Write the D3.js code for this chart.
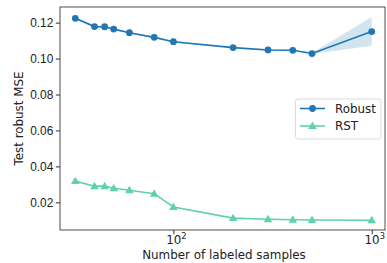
<!DOCTYPE html>
<html lang="en">
<head>
  <meta charset="UTF-8">
  <title>Test robust MSE</title>
  <script src="https://cdn.jsdelivr.net/npm/d3@7/dist/d3.min.js"></script>
  <style>
    body { margin: 0; background: #fff; }
    svg { font-family: "DejaVu Sans", sans-serif; }
    .tick text { font-size: 11.9px; fill: #222; }
    .axis-label { font-size: 11.9px; fill: #222; }
  </style>
</head>
<body>
  <svg id="chart" width="387" height="263"></svg>
  <script>
    // labeled sample counts
    const samples = [32, 40, 45, 50, 60, 80, 100, 200, 300, 400, 500, 1000]
    const robust = [0.1224, 0.1178, 0.1177, 0.1164, 0.1144, 0.1118, 0.1094, 0.1061, 0.1048, 0.1046, 0.1028, 0.1150]
    const robustLow = [0.1219, 0.1173, 0.1172, 0.1159, 0.1140, 0.1114, 0.1090, 0.1057, 0.1043, 0.1041, 0.1025, 0.1072]
    const robustHigh = [0.1229, 0.1183, 0.1182, 0.1169, 0.1148, 0.1122, 0.1098, 0.1065, 0.1053, 0.1051, 0.1031, 0.1231]
    const rst = [0.0318, 0.0290, 0.0290, 0.0278, 0.0267, 0.0248, 0.0174, 0.0112, 0.0106, 0.0103, 0.0102, 0.0100]
    const yTicks = [0.02, 0.04, 0.06, 0.08, 0.10, 0.12]
    const xMajor = [100, 1000]

    const blue = '#1f77b4'
    const green = '#5fd3a7'

    const margin = { left: 60, right: 2, top: 7, bottom: 33 }
    const W = 387, H = 263
    const svg = d3.select('#chart')

    const x = d3.scaleLog().domain([26.8, 1167]).range([margin.left, W - margin.right])
    const y = d3.scaleLinear().domain([0.0046, 0.1287]).range([H - margin.bottom, margin.top])

    const xMinor = []
    for (let d = 10; d <= 1000; d *= 10) {
      for (let k = 2; k <= 9; k++) {
        const v = d * k
        if (v >= 26.8 && v <= 1167) xMinor.push(v)
      }
    }

    // band
    const area = d3.area()
      .x((d, i) => x(samples[i]))
      .y0((d, i) => y(robustLow[i]))
      .y1((d, i) => y(robustHigh[i]))
    svg.append('path')
      .attr('d', area(samples))
      .attr('fill', blue)
      .attr('fill-opacity', 0.2)

    const line = d3.line().x((d, i) => x(samples[i])).y(d => y(d))

    svg.append('path').attr('d', line(robust))
      .attr('fill', 'none').attr('stroke', blue).attr('stroke-width', 1.6)
    svg.append('g').selectAll('circle').data(robust).enter().append('circle')
      .attr('cx', (d, i) => x(samples[i]))
      .attr('cy', d => y(d))
      .attr('r', 3.4)
      .attr('fill', blue)

    svg.append('path').attr('d', line(rst))
      .attr('fill', 'none').attr('stroke', green).attr('stroke-width', 1.6)
    const tri = d3.symbol().type(d3.symbolTriangle).size(32)
    svg.append('g').selectAll('path').data(rst).enter().append('path')
      .attr('d', tri)
      .attr('transform', (d, i) => `translate(${x(samples[i])},${y(d) + 0.5})`)
      .attr('fill', green)

    // axes
    const gx = svg.append('g').attr('transform', `translate(0,${H - margin.bottom})`)
    gx.call(d3.axisBottom(x).tickValues(xMinor).tickSize(2.4).tickFormat(''))
    gx.call(d3.axisBottom(x).tickValues(xMajor).tickSize(4.2).tickFormat(''))
    gx.select('.domain').remove()
    gx.selectAll('.tick line').attr('stroke', '#222').attr('stroke-width', 0.95)
    xMajor.forEach(v => {
      const t = svg.append('text')
        .attr('x', x(v) + 3)
        .attr('y', 244)
        .attr('text-anchor', 'middle')
        .attr('class', 'axis-label')
      t.append('tspan').text('10')
      t.append('tspan').attr('dy', -4.8).attr('font-size', '8.3px').text(Math.log10(v))
    })

    const gy = svg.append('g').attr('transform', `translate(${margin.left},0)`)
    gy.call(d3.axisLeft(y).tickValues(yTicks).tickSize(4.2).tickPadding(2.5).tickFormat(d3.format('.2f')))
    gy.select('.domain').remove()
    gy.selectAll('.tick line').attr('stroke', '#222').attr('stroke-width', 0.95)

    // frame
    svg.append('rect')
      .attr('x', margin.left).attr('y', margin.top)
      .attr('width', W - margin.right - margin.left)
      .attr('height', H - margin.bottom - margin.top)
      .attr('fill', 'none').attr('stroke', '#444').attr('stroke-width', 0.95)

    svg.append('text').attr('class', 'axis-label')
      .attr('x', 224).attr('y', 258.5)
      .attr('text-anchor', 'middle')
      .text('Number of labeled samples')
    svg.append('text').attr('class', 'axis-label')
      .attr('transform', `translate(22.5,${(margin.top + H - margin.bottom) / 2}) rotate(-90)`)
      .attr('text-anchor', 'middle')
      .text('Test robust MSE')

    // legend
    const lg = svg.append('g').attr('transform', 'translate(295.5,99)')
    lg.append('rect').attr('width', 85.5).attr('height', 40).attr('rx', 2.5)
      .attr('fill', '#fff').attr('fill-opacity', 0.8).attr('stroke', '#d6d6d6').attr('stroke-width', 0.9)
    const items = [
      { name: 'Robust', color: blue, mark: 'circle' },
      { name: 'RST', color: green, mark: 'tri' }
    ]
    items.forEach((it, i) => {
      const yy = 9.5 + i * 17.5
      lg.append('line').attr('x1', 4.5).attr('x2', 29.5).attr('y1', yy).attr('y2', yy)
        .attr('stroke', it.color).attr('stroke-width', 1.6)
      if (it.mark === 'circle') {
        lg.append('circle').attr('cx', 17).attr('cy', yy).attr('r', 3.4).attr('fill', it.color)
      } else {
        lg.append('path').attr('d', tri).attr('transform', `translate(17,${yy + 0.5})`).attr('fill', it.color)
      }
      lg.append('text').attr('class', 'axis-label').attr('x', 39.5).attr('y', yy + 4.3).text(it.name)
    })
  </script>
</body>
</html>
